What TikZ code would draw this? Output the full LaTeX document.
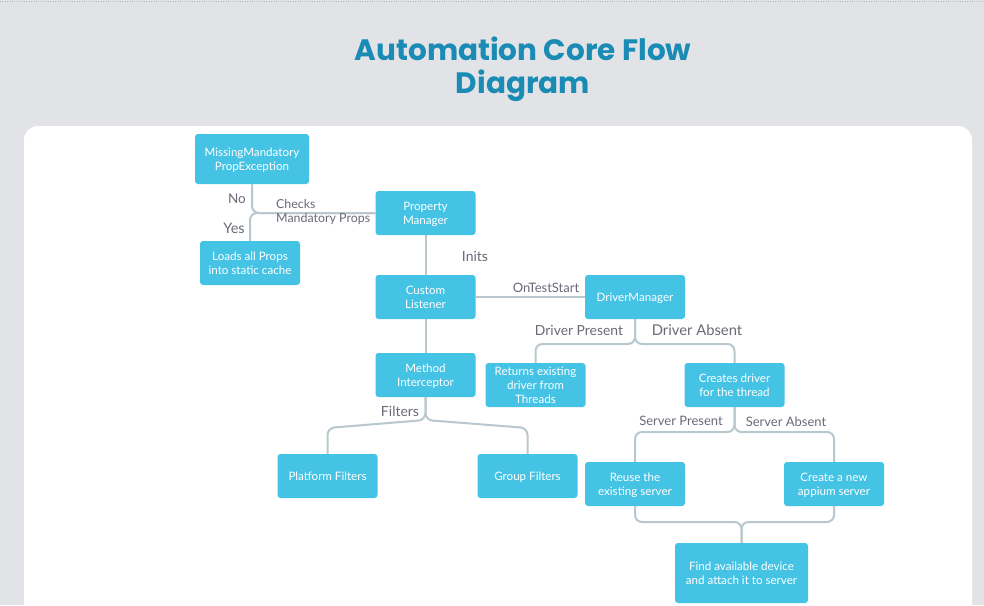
\documentclass[tikz,border=0pt]{standalone}
\usepackage{fontspec}
\setmainfont{Lato}
\newfontfamily\titlefont{Poppins}
\usetikzlibrary{positioning}
\definecolor{boxblue}{HTML}{45C3E5}
\definecolor{linegray}{HTML}{B9C7CE}
\definecolor{labelgray}{HTML}{6A6A78}
\definecolor{titleblue}{HTML}{1A8BB4}
\definecolor{bggray}{HTML}{E1E3E7}
\tikzset{
  flowbox/.style={rectangle, rounded corners=3pt, fill=boxblue, text=white, minimum width=100pt, minimum height=44pt, align=center, inner sep=1pt, text depth=-3pt, font=\fontsize{11.6}{14}\selectfont},
  flowline/.style={draw=linegray, line width=2pt, rounded corners=7pt},
  flowlabel/.style={text=labelgray, inner sep=0pt, font=\fontsize{13}{15}\selectfont}
}
\begin{document}
\begin{tikzpicture}[x=1pt,y=-1pt]
\useasboundingbox (0,0) rectangle (984,605);
\fill[bggray] (0,0) rectangle (984,605);
\draw[gray!60,dotted] (0,1) -- (984,1);
\fill[white,rounded corners=14pt] (24,126) rectangle (972,640);

\node[font=\titlefont\bfseries\fontsize{29.5}{33}\selectfont, text=titleblue, align=center] (title) at (523,69) {Automation Core Flow\\Diagram};

% boxes
\node[flowbox, minimum width=114pt, minimum height=50pt] (mmp) at (252,159) {MissingMandatory\\PropException};
\node[flowbox] (pm) at (425.5,213) {Property\\Manager};
\node[flowbox] (lap) at (250,263) {Loads all Props\\into static cache};
\node[flowbox] (cl) at (425.5,297) {Custom\\Listener};
\node[flowbox] (dm) at (635,297) {DriverManager};
\node[flowbox] (mi) at (425.5,375) {Method\\Interceptor};
\node[flowbox] (red) at (535.5,385) {Returns existing\\driver from\\Threads};
\node[flowbox] (cdt) at (734.5,385) {Creates driver\\for the thread};
\node[flowbox] (pf) at (327.5,476) {Platform Filters};
\node[flowbox] (gf) at (527.5,476) {Group Filters};
\node[flowbox] (res) at (635,484) {Reuse the\\existing server};
\node[flowbox] (cas) at (834,484) {Create a new\\appium server};
\node[flowbox, minimum width=133pt, minimum height=60pt] (fad) at (741.5,573) {Find available device\\and attach it to server};

% connectors
\coordinate (dmfork) at (635,344);
\coordinate (cdtfork) at (734.5,432);
\coordinate (fadjoin) at (741.5,522);
\coordinate (mifork) at (425.5,420);
\coordinate (pfbend) at (327.5,428);
\coordinate (gfbend) at (527.5,428);
\draw[flowline] (pm.west) -| (mmp.south);
\draw[flowline] (pm.west) -| (lap.north);
\draw[flowline] (pm) -- (cl);
\draw[flowline] (cl) -- (dm);
\draw[flowline] (cl) -- (mi);
\draw[flowline] (dm.south) -- (dmfork) -| (red.north);
\draw[flowline] (dm.south) -- (dmfork) -| (cdt.north);
\draw[flowline] (cdt.south) -- (cdtfork) -| (res.north);
\draw[flowline] (cdt.south) -- (cdtfork) -| (cas.north);
\draw[flowline] (res.south) |- (fadjoin) -- (fad.north);
\draw[flowline] (cas.south) |- (fadjoin) -- (fad.north);
\draw[flowline] (mi.south) -- (mifork) -- (pfbend) -- (pf.north);
\draw[flowline] (mi.south) -- (mifork) -- (gfbend) -- (gf.north);

% labels
\node[flowlabel, font=\fontsize{13.5}{15}\selectfont] (no) at (237,199) {No};
\node[flowlabel, font=\fontsize{14.5}{16}\selectfont] (yes) at (234,228) {Yes};
\node[flowlabel, align=left, anchor=west, font=\fontsize{12.4}{14}\selectfont] (chk) at (276,212) {Checks\\Mandatory Props};
\node[flowlabel, font=\fontsize{14}{16}\selectfont] (inits) at (475,256) {Inits};
\node[flowlabel] (ots) at (546,288) {OnTestStart};
\node[flowlabel, font=\fontsize{13.9}{16}\selectfont] (dp) at (579,330) {Driver Present};
\node[flowlabel, font=\fontsize{14.8}{17}\selectfont] (da) at (697,330) {Driver Absent};
\node[flowlabel, font=\fontsize{14}{16}\selectfont] (filt) at (400,411) {Filters};
\node[flowlabel] (sp) at (681,421) {Server Present};
\node[flowlabel] (sa) at (786,422) {Server Absent};
\end{tikzpicture}
\end{document}
